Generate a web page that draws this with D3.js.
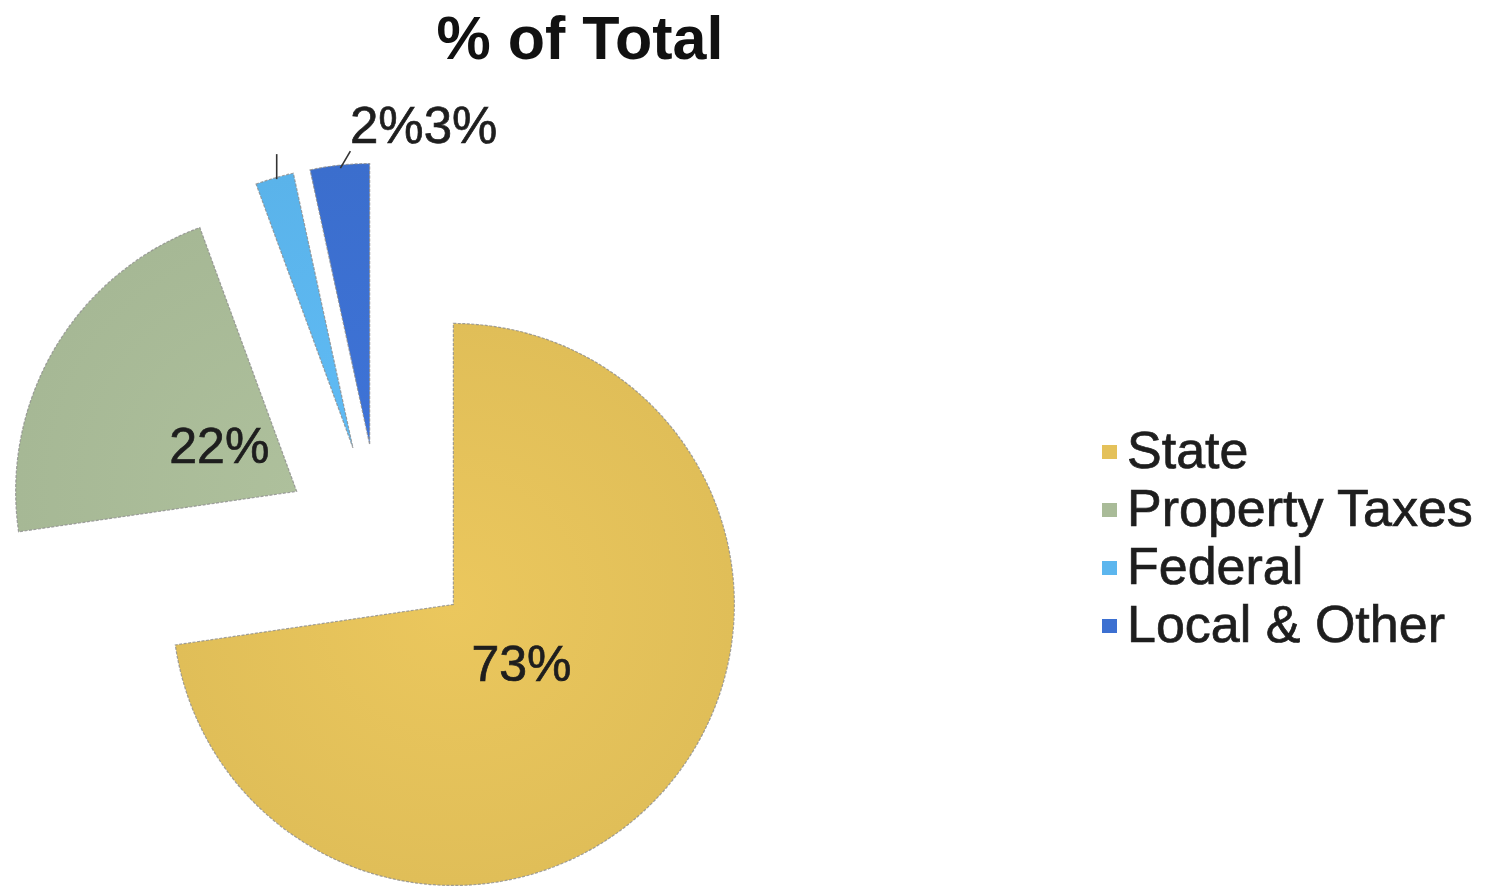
<!DOCTYPE html>
<html>
<head>
<meta charset="utf-8">
<script src="https://cdn.jsdelivr.net/npm/d3@7"></script>
<style>
  html, body { margin: 0; padding: 0; background: #fff; }
  svg { display: block; font-family: "Liberation Sans", Arial, sans-serif; }
</style>
</head>
<body>
<svg id="chart" width="1491" height="886"></svg>
<script>
// ---- data ----
const categories = ["State", "Property Taxes", "Federal", "Local & Other"];
const values = [72.7, 21.7, 2.2, 3.4];
const colors = ["#E4C15A", "#A9BB98", "#5CB6EE", "#3C70D1"];
const titleText = "% of Total";

// ---- layout ----
const W = 1491, H = 886;
const cx = 380, cy = 541, R = 281, explode = 97;
const total = d3.sum(values);
const pct = d3.format(".0%");

const svg = d3.select("#chart");

const data = categories.map((c, i) => ({ cat: c, value: values[i], label: pct(values[i] / total), color: colors[i] }));
const pie = d3.pie().value(d => d.value).sort(null).startAngle(0).endAngle(2 * Math.PI);
const arcs = pie(data);
const arc = d3.arc().innerRadius(0).outerRadius(R);

function dir(a) { return [Math.sin(a), -Math.cos(a)]; }

// gradients
const defs = svg.append("defs");
arcs.forEach((d, i) => {
  const g = defs.append("radialGradient").attr("id", "g" + i)
    .attr("gradientUnits", "userSpaceOnUse").attr("cx", 0).attr("cy", 0).attr("r", R);
  const c = d3.color(d.data.color);
  g.append("stop").attr("offset", "0%").attr("stop-color", c.brighter(0.08));
  g.append("stop").attr("offset", "100%").attr("stop-color", c.darker(0.05));
});

const pieG = svg.append("g").attr("transform", `translate(${cx},${cy})`);

const slices = pieG.selectAll("g.slice").data(arcs).enter().append("g")
  .attr("class", "slice")
  .attr("transform", d => {
    const m = (d.startAngle + d.endAngle) / 2;
    const [dx, dy] = dir(m);
    return `translate(${dx * explode},${dy * explode})`;
  });

slices.append("path")
  .attr("d", arc)
  .attr("fill", (d, i) => `url(#g${i})`)
  .attr("stroke", "#8c8c8c")
  .attr("stroke-width", 1.2)
  .attr("stroke-dasharray", "3,1.5")
  .attr("stroke-opacity", 0.8);

const textFill = "#1e1e1e";
function heavy(sel) {
  return sel.attr("fill", textFill).attr("stroke", textFill).attr("stroke-width", 0.7);
}

// inside labels for large slices
const labelR = 90;
heavy(slices.filter(d => d.data.value >= 10).append("text")
  .attr("x", d => dir((d.startAngle + d.endAngle) / 2)[0] * labelR)
  .attr("y", d => dir((d.startAngle + d.endAngle) / 2)[1] * labelR)
  .attr("dy", "0.36em")
  .attr("text-anchor", "middle")
  .attr("font-size", 50)
  .text(d => d.data.label));

// outside labels for small slices (with leader lines)
const small = arcs.filter(d => d.data.value < 10);
const labelBaseline = 143 - cy;
small.forEach((d, k) => {
  const m = (d.startAngle + d.endAngle) / 2;
  const [ex, ey] = dir(m);
  const ox = ex * explode, oy = ey * explode;
  const px = ox + ex * (R + 3), py = oy + ey * (R + 3);
  if (k === 0) {
    pieG.append("line")
      .attr("x1", px + 3).attr("y1", py + 4)
      .attr("x2", px + 3).attr("y2", py - 21)
      .attr("stroke", "#333").attr("stroke-width", 1.6);
  } else {
    pieG.append("line")
      .attr("x1", px + 1).attr("y1", py + 6)
      .attr("x2", px + 11).attr("y2", py - 11)
      .attr("stroke", "#333").attr("stroke-width", 1.6);
  }
});
// combined label "2%3%"
const localArc = small[small.length - 1];
const lm = (localArc.startAngle + localArc.endAngle) / 2;
const splitX = dir(lm)[0] * (explode + R) + 84;
heavy(pieG.append("text")
  .attr("x", splitX).attr("y", labelBaseline)
  .attr("text-anchor", "end").attr("font-size", 51)
  .text(small[0].data.label));
heavy(pieG.append("text")
  .attr("x", splitX).attr("y", labelBaseline)
  .attr("text-anchor", "start").attr("font-size", 51)
  .text(small[1].data.label));

// title
svg.append("text")
  .attr("x", 580).attr("y", 59)
  .attr("text-anchor", "middle")
  .attr("font-size", 61).attr("font-weight", "bold").attr("fill", "#111")
  .text(titleText);

// legend
const legend = svg.append("g").attr("transform", "translate(1102,445)");
const rowH = 58;
const items = legend.selectAll("g").data(data).enter().append("g")
  .attr("transform", (d, i) => `translate(0,${i * rowH})`);
items.append("rect").attr("width", 15).attr("height", 14).attr("fill", d => d.color);
heavy(items.append("text")
  .attr("x", 25).attr("y", 23)
  .attr("font-size", 52)
  .text(d => d.cat));
</script>
</body>
</html>
